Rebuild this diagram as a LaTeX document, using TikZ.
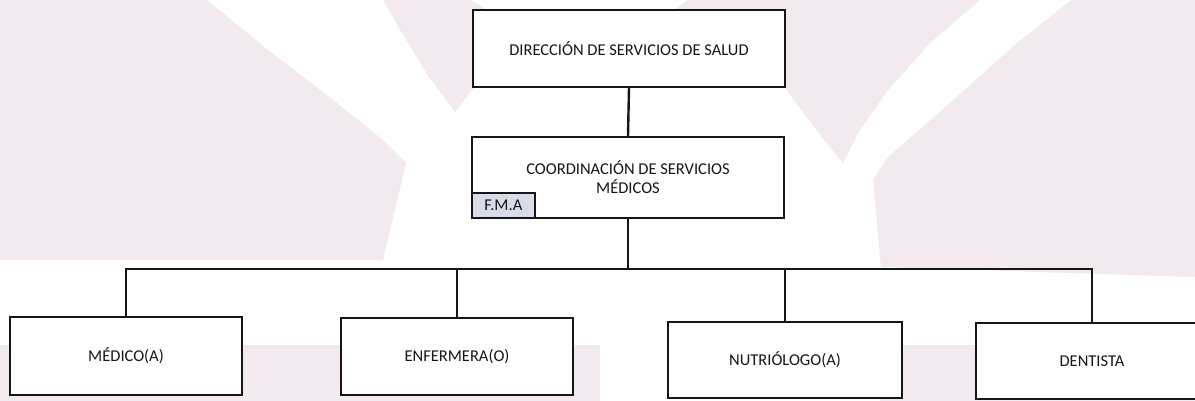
\documentclass[tikz,border=0pt]{standalone}
\usepackage{fontspec}
\setmainfont{Carlito}
\definecolor{ink}{HTML}{161616}
\definecolor{wm}{RGB}{243,234,239}
\definecolor{fmafill}{HTML}{D8DCE8}
\begin{document}
\begin{tikzpicture}[x=1pt,y=-1pt,
  orgbox/.style={draw=ink,line width=2.3pt,fill=white,inner sep=0pt,align=center,
    text=ink,font=\fontsize{16.5}{19}\selectfont},
  lbl/.style={inner sep=0pt,text=ink,font=\fontsize{16.5}{19}\selectfont},
  fmabox/.style={draw=ink,line width=2pt,fill=fmafill,inner sep=0pt,text=ink,
    minimum width=63pt,minimum height=25pt,font=\fontsize{16.5}{19}\selectfont},
  conn/.style={draw=ink,line width=2.4pt},
  wmark/.style={fill=wm,draw=none}]
\useasboundingbox (0,0) rectangle (1195,401);
\clip (0,0) rectangle (1195,401);
\fill[white] (0,0) rectangle (1195,401);
% watermark shapes
\fill[wmark] (0,0) -- (207,0) -- (268,50) -- (337,103) -- (383,140) -- (406,163)
  -- (383,260) -- (0,260) -- cycle;
\fill[wmark] (383,0) -- (402,33) -- (429,77) -- (455,112) -- (480,80) -- (780,80)
  -- (790,95) -- (824,140) -- (843,163) -- (858,133) -- (888,90) -- (930,43)
  -- (980,0) -- (687,0) -- (650,30) -- (520,30) -- (471,0) -- cycle;
\fill[wmark] (1071,0) -- (1195,0) -- (1195,277) -- (881,267) -- (873,180)
  -- (888,157) -- (942,110) -- (1017,43) -- cycle;
\fill[wmark] (0,345) rectangle (600,401);
\fill[wmark] (880,345) rectangle (1195,401);
% boxes
\node[orgbox,minimum width=312pt,minimum height=77pt] (dir) at (629,48.5)
  {DIRECCIÓN DE SERVICIOS DE SALUD};
\node[orgbox,minimum width=312pt,minimum height=81pt] (coord) at (628,177.5)
  {COORDINACIÓN DE SERVICIOS\\MÉDICOS};
\node[fmabox,anchor=south west] (fma) at (coord.south west) {F.M.A};
\node[orgbox,minimum width=232pt,minimum height=78pt] (med) at (126,356) {MÉDICO(A)};
\node[orgbox,minimum width=232pt,minimum height=77pt] (enf) at (457,356.5) {ENFERMERA(O)};
\node[orgbox,minimum width=234pt,minimum height=76pt] (nut) at (785,360) {NUTRIÓLOGO(A)};
\node[orgbox,minimum width=280pt,minimum height=76pt,anchor=west] (den) at (975,361) {};
\node[lbl] (dentxt) at (1092,361) {DENTISTA};
% connectors
\coordinate (bar) at (628,269);
\draw[conn] (dir.south) -- (coord.north);
\draw[conn] (coord.south) -- (bar);
\draw[conn] (med.north) |- (bar) -| (den.north -| dentxt);
\draw[conn] (enf.north) -- (enf.north |- bar);
\draw[conn] (nut.north) -- (nut.north |- bar);
\end{tikzpicture}
\end{document}
